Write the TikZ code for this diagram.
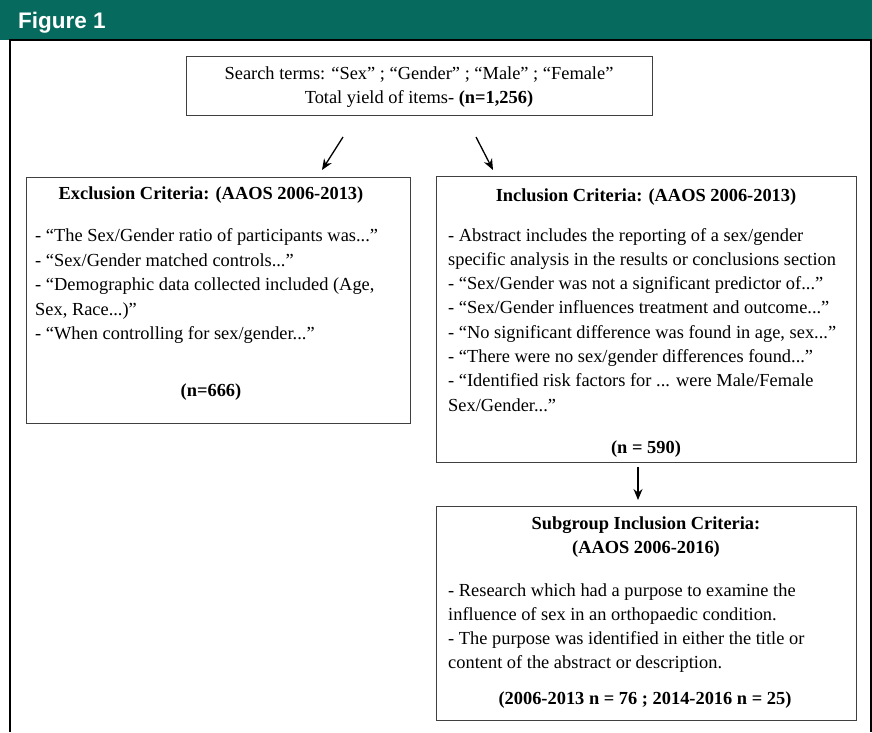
\documentclass[tikz,border=0pt]{standalone}
\usepackage{fontspec}
\setmainfont{Liberation Serif}
\newfontfamily\hdrfont{Liberation Sans}
\usetikzlibrary{arrows.meta}
\definecolor{hdrgreen}{RGB}{6,107,94}
\definecolor{boxline}{RGB}{64,64,64}
\tikzset{
  x=1pt, y=-1pt,
  box/.style={draw=boxline, line width=1pt, inner sep=0pt, anchor=north west},
  txt/.style={inner sep=0pt, font=\fontsize{18.4}{24}\selectfont},
  ln/.style={txt, anchor=base west},
  ctr/.style={txt, anchor=base},
  arr/.style={-{Stealth[length=11pt,width=9pt]}, line width=1.3pt, black},
}
\begin{document}
\begin{tikzpicture}
\useasboundingbox (0,0) rectangle (872,732);
% header
\fill[hdrgreen] (0,0) rectangle (872,39.5);
\node[anchor=base west, inner sep=0pt, text=white, font=\hdrfont\bfseries\fontsize{22.5}{26}\selectfont] (hdr) at (18,28) {Figure 1};
% frame
\draw[black, line width=2pt] (10,732) -- (10,40) -- (871,40) -- (871,732);

% top box
\node[box, minimum width=466pt, minimum height=59pt] (top) at (186,56) {};
\node[ctr] (t1) at (419,79) {Search terms: “Sex” ; “Gender” ; “Male” ; “Female”};
\node[ctr] (t2) at (419,103) {Total yield of items- \textbf{(n=1,256)}};

% exclusion box
\node[box, minimum width=384pt, minimum height=246pt] (excl) at (26,177) {};
\node[ctr] (e0) at (211,199) {\textbf{Exclusion Criteria: (AAOS 2006-2013)}};
\node[ln] (e1) at (35,241.5) {- “The Sex/Gender ratio of participants was...”};
\node[ln] (e2) at (35,266) {- “Sex/Gender matched controls...”};
\node[ln] (e3) at (35,290.5) {- “Demographic data collected included (Age,};
\node[ln] (e4) at (35,315) {Sex, Race...)”};
\node[ln] (e5) at (35,339.5) {- “When controlling for sex/gender...”};
\node[ctr] (en) at (211,396) {\textbf{(n=666)}};

% inclusion box
\node[box, minimum width=420pt, minimum height=286pt] (incl) at (436,176) {};
\node[ctr] (i0) at (646,201) {\textbf{Inclusion Criteria: (AAOS 2006-2013)}};
\node[ln] (i1) at (448,241) {- Abstract includes the reporting of a sex/gender};
\node[ln] (i2) at (448,265.3) {specific analysis in the results or conclusions section};
\node[ln] (i3) at (448,289.6) {- “Sex/Gender was not a significant predictor of...”};
\node[ln] (i4) at (448,313.9) {- “Sex/Gender influences treatment and outcome...”};
\node[ln] (i5) at (448,338.2) {- “No significant difference was found in age, sex...”};
\node[ln] (i6) at (448,362.5) {- “There were no sex/gender differences found...”};
\node[ln] (i7) at (448,386.8) {- “Identified risk factors for ... were Male/Female};
\node[ln] (i8) at (448,411.1) {Sex/Gender...”};
\node[ctr] (in) at (646,453) {\textbf{(n = 590)}};

% subgroup box
\node[box, minimum width=420pt, minimum height=214pt] (sub) at (436,506) {};
\node[ctr] (s0) at (646,529) {\textbf{Subgroup Inclusion Criteria:}};
\node[ctr] (s00) at (646,553) {\textbf{(AAOS 2006-2016)}};
\node[ln] (s1) at (448,596) {- Research which had a purpose to examine the};
\node[ln] (s2) at (448,620.3) {influence of sex in an orthopaedic condition.};
\node[ln] (s3) at (448,644.6) {- The purpose was identified in either the title or};
\node[ln] (s4) at (448,668.9) {content of the abstract or description.};
\node[ctr] (sn) at (645,704) {\textbf{(2006-2013 n = 76 ; 2014-2016 n = 25)}};

% arrows
\coordinate (a1s) at (343,137);
\coordinate (a1e) at (322,170);
\coordinate (a2s) at (476,137);
\coordinate (a2e) at (493,170);
\coordinate (a3s) at (638,467);
\coordinate (a3e) at (638,500);
\draw[arr] (a1s) -- (a1e);
\draw[arr] (a2s) -- (a2e);
\draw[arr] (a3s) -- (a3e);
\end{tikzpicture}
\end{document}
